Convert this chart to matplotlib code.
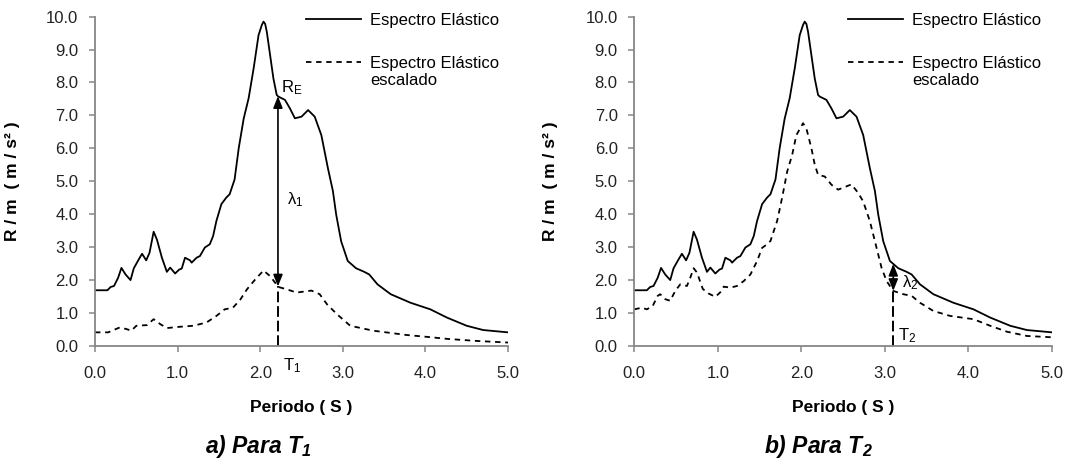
# %%
import numpy as np
import matplotlib
matplotlib.use('Agg')
import matplotlib.pyplot as plt
from matplotlib.legend_handler import HandlerLine2D

plt.rcParams['font.family'] = ['Liberation Sans', 'DejaVu Sans']
plt.rcParams['mathtext.fontset'] = 'custom'
plt.rcParams['mathtext.rm'] = 'Liberation Sans'
plt.rcParams['mathtext.default'] = 'regular'

# %%
# Espectro elastico (igual en ambos graficos)
periodo = [0.00, 0.15, 0.19, 0.23, 0.28, 0.32, 0.37, 0.43, 0.47, 0.53, 0.57, 0.62, 0.66, 0.71,
           0.75, 0.81, 0.87, 0.91, 0.97, 1.02, 1.05, 1.09, 1.15, 1.17, 1.23, 1.27, 1.33, 1.39,
           1.43, 1.47, 1.53, 1.59, 1.63, 1.69, 1.74, 1.80, 1.86, 1.92, 1.98, 2.02, 2.04, 2.06,
           2.08, 2.12, 2.16, 2.20, 2.22, 2.30, 2.36, 2.42, 2.50, 2.58, 2.66, 2.74, 2.82, 2.88,
           2.92, 2.98, 3.06, 3.16, 3.26, 3.32, 3.42, 3.58, 3.82, 4.06, 4.26, 4.50, 4.70, 5.00]
espectro = [1.68, 1.68, 1.78, 1.81, 2.06, 2.36, 2.16, 1.99, 2.35, 2.62, 2.79, 2.59, 2.82, 3.46,
            3.22, 2.67, 2.24, 2.37, 2.19, 2.31, 2.34, 2.67, 2.59, 2.52, 2.67, 2.72, 2.98, 3.08,
            3.33, 3.79, 4.30, 4.50, 4.60, 5.05, 6.00, 6.90, 7.52, 8.42, 9.44, 9.75, 9.85, 9.78,
            9.54, 8.83, 8.12, 7.62, 7.57, 7.47, 7.21, 6.91, 6.96, 7.16, 6.96, 6.40, 5.39, 4.70,
            3.98, 3.17, 2.57, 2.35, 2.24, 2.16, 1.86, 1.56, 1.30, 1.10, 0.85, 0.60, 0.47, 0.40]

# a) escalado para T1
periodo_a = [0.00, 0.16, 0.30, 0.38, 0.44, 0.50, 0.63, 0.71, 0.79, 0.87, 1.03, 1.19, 1.35, 1.47,
             1.57, 1.67, 1.76, 1.84, 1.94, 2.04, 2.12, 2.22, 2.32, 2.44, 2.62, 2.72, 2.81, 2.93,
             3.09, 3.37, 3.77, 4.03, 4.27, 4.61, 5.00]
escalado_a = [0.40, 0.40, 0.55, 0.50, 0.45, 0.60, 0.62, 0.80, 0.65, 0.53, 0.57, 0.60, 0.70, 0.90,
              1.10, 1.15, 1.40, 1.71, 2.01, 2.28, 2.11, 1.78, 1.71, 1.61, 1.67, 1.56, 1.25, 0.95,
              0.60, 0.45, 0.32, 0.26, 0.20, 0.14, 0.09]

# b) escalado para T2
periodo_b = [0.00, 0.09, 0.15, 0.22, 0.28, 0.31, 0.37, 0.43, 0.49, 0.55, 0.63, 0.67, 0.71, 0.75,
             0.82, 0.89, 0.97, 1.03, 1.07, 1.15, 1.23, 1.31, 1.39, 1.47, 1.53, 1.59, 1.63, 1.71,
             1.77, 1.83, 1.89, 1.94, 2.02, 2.06, 2.12, 2.16, 2.20, 2.28, 2.36, 2.44, 2.54, 2.60,
             2.68, 2.74, 2.82, 2.90, 2.96, 3.02, 3.10, 3.22, 3.32, 3.42, 3.58, 3.78, 4.06, 4.26,
             4.46, 4.70, 5.00]
escalado_b = [1.10, 1.15, 1.10, 1.20, 1.51, 1.56, 1.41, 1.36, 1.66, 1.86, 1.81, 2.06, 2.35, 2.22,
              1.72, 1.58, 1.48, 1.62, 1.79, 1.76, 1.81, 1.96, 2.16, 2.57, 2.97, 3.08, 3.18, 3.79,
              4.50, 5.29, 5.80, 6.40, 6.76, 6.60, 6.00, 5.50, 5.19, 5.14, 4.89, 4.74, 4.84, 4.90,
              4.64, 4.38, 3.78, 2.97, 2.36, 1.96, 1.66, 1.56, 1.51, 1.30, 1.05, 0.90, 0.80, 0.60,
              0.42, 0.29, 0.25]

T1 = 2.215
T2 = 3.10
xticks = [0, 1, 2, 3, 4, 5]
yticks = list(range(11))

GRIS = '#868686'


# %%
class HandlerArriba(HandlerLine2D):
    # sube la muestra de linea a la primera fila del texto
    def create_artists(self, legend, orig_handle, xdescent, ydescent, width, height, fontsize, trans):
        arts = super().create_artists(legend, orig_handle, xdescent, ydescent, width, height, fontsize, trans)
        for a in arts:
            a.set_ydata(np.asarray(a.get_ydata()) + 0.6 * fontsize)
        return arts


def preparar(ax):
    ax.set_xlim(0, 5)
    ax.set_ylim(0, 10)
    ax.set_xticks(xticks)
    ax.set_yticks(yticks)
    ax.set_xticklabels([f'{v:.1f}' for v in xticks])
    ax.set_yticklabels([f'{v:.1f}' for v in yticks])
    for s in ['top', 'right']:
        ax.spines[s].set_visible(False)
    for s in ['left', 'bottom']:
        ax.spines[s].set_color(GRIS)
        ax.spines[s].set_linewidth(1.3)
    ax.tick_params(direction='out', length=4, width=1.1, color=GRIS,
                   labelcolor='#222222', labelsize=12)
    ax.tick_params(axis='x', pad=11)
    ax.tick_params(axis='y', pad=8)
    ax.set_xlabel('Periodo ( S )', fontsize=12.5, fontweight='bold')
    ax.set_ylabel('R / m  ( m / s² )', fontsize=12.5, fontweight='bold')
    ax.xaxis.set_label_coords(0.5, -0.166)
    ax.yaxis.set_label_coords(-0.182, 0.5)


def dibujar(ax, per_esc, esc, T, lam, etiqueta_T, pos_T, pos_lam):
    l1, = ax.plot(periodo, espectro, color='black', lw=1.3)
    l2, = ax.plot(per_esc, esc, color='black', lw=1.3, linestyle=(0, (3, 2.6)))
    y_sup = np.interp(T, periodo, espectro)
    y_inf = np.interp(T, per_esc, esc)
    ax.vlines(T, 0, y_inf, colors='black', lw=1.4, linestyles=[(0, (5.5, 2))])
    ax.annotate('', xy=(T, y_sup), xytext=(T, y_inf),
                arrowprops=dict(arrowstyle='<|-|>,head_length=0.7,head_width=0.28',
                                color='black', lw=1.2, shrinkA=0, shrinkB=0,
                                mutation_scale=10))
    ax.text(pos_T[0], pos_T[1], etiqueta_T, fontsize=12, ha='left', va='center',
            clip_on=False)
    ax.text(pos_lam[0], pos_lam[1], lam, fontsize=12, ha='left', va='center')
    ax.legend([l1, l2], ['Espectro Elástico', 'Espectro Elástico\nescalado'],
              handler_map={l2: HandlerArriba()},
              loc='upper left', bbox_to_anchor=(0.511, 1.011), frameon=False,
              fontsize=12, handlelength=3.3, handletextpad=0.55,
              labelspacing=1.68, borderpad=0, borderaxespad=0)
    return y_sup


# %%
fig = plt.figure(figsize=(10.67, 4.69), dpi=100)
ax1 = fig.add_axes([95 / 1067, 1 - 345.5 / 469, 413 / 1067, 328.8 / 469])
ax2 = fig.add_axes([634.3 / 1067, 1 - 345.5 / 469, 417.7 / 1067, 328.8 / 469])

for ax in (ax1, ax2):
    preparar(ax)

dibujar(ax1, periodo_a, escalado_a, T1, r'$\lambda_1$', r'T$_1$', (2.27, -0.6), (2.32, 4.45))
ax1.text(2.25, 7.83, r'R$_E$', fontsize=12, ha='left', va='center')
dibujar(ax2, periodo_b, escalado_b, T2, r'$\lambda_2$', r'T$_2$', (3.16, 0.30), (3.20, 1.9))

fig.text(258 / 1067, 1 - 446 / 469, 'a) Para T$_1$', fontsize=16.5, fontweight='bold',
         style='italic', ha='center', va='center')
fig.text(818 / 1067, 1 - 446 / 469, 'b) Para T$_2$', fontsize=16.5, fontweight='bold',
         style='italic', ha='center', va='center')

fig.savefig('out.png', dpi=100)
